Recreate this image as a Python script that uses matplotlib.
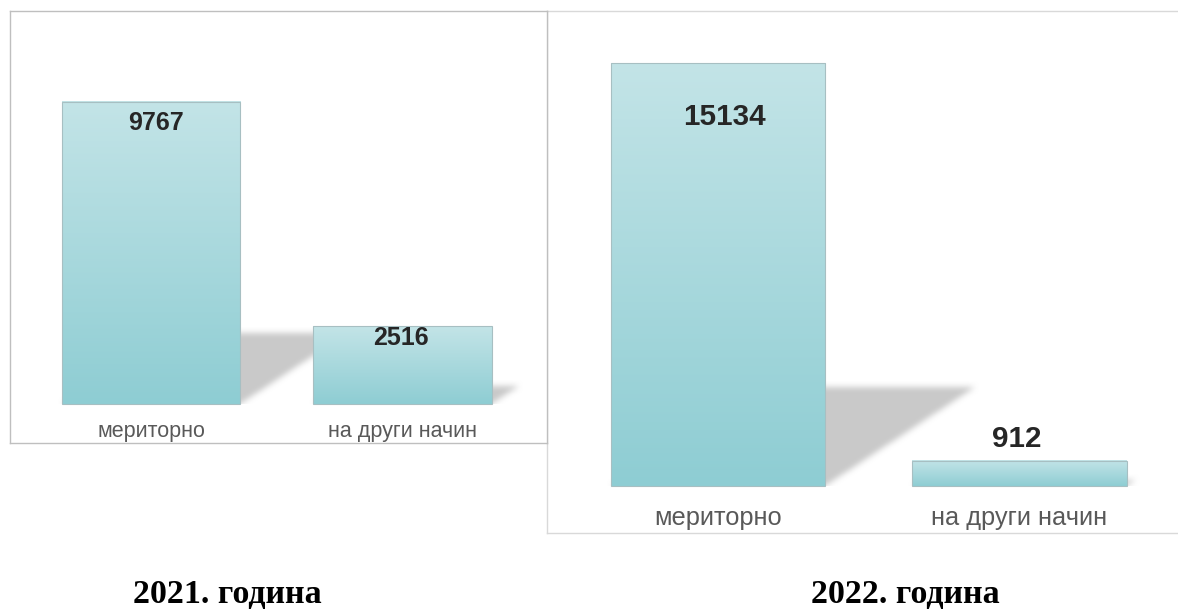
import numpy as np
import matplotlib
matplotlib.use("Agg")
import matplotlib.pyplot as plt
from matplotlib.path import Path
from matplotlib.colors import LinearSegmentedColormap
from matplotlib.transforms import offset_copy

# ---------------- data ----------------
categories = ["мериторно", "на други начин"]
values_2021 = [9767, 2516]
values_2022 = [15134, 912]
titles = ["2021. година", "2022. година"]

# ---------------- style ----------------
W, H = 1178, 610
fig = plt.figure(figsize=(W / 100, H / 100), dpi=100)
SANS = ["Liberation Sans", "DejaVu Sans"]
SERIF = ["Liberation Serif", "DejaVu Serif"]
bar_cmap = LinearSegmentedColormap.from_list("bar", ["#8ecdd3", "#c3e4e7"])


def px_axes(x0, y0, x1, y1):
    return fig.add_axes([x0 / W, 1 - y1 / H, (x1 - x0) / W, (y1 - y0) / H])


def blur(a, r):
    k = np.ones(2 * r + 1) / (2 * r + 1)
    for _ in range(2):
        a = np.apply_along_axis(lambda m: np.convolve(m, k, mode="same"), 0, a)
        a = np.apply_along_axis(lambda m: np.convolve(m, k, mode="same"), 1, a)
    return a


def panel(box, values, xlim, ylim, width, cat_fs, val_fs, val_offsets,
          cat_offset, spine_color):
    ax = px_axes(*box)
    ax.set_xlim(*xlim)
    ax.set_ylim(*ylim)
    x = np.arange(len(values))
    bars = ax.bar(x, values, width, color="none", edgecolor="#a7bfc2",
                  linewidth=0.8, zorder=4)

    # shadow raster
    nx = int(box[2] - box[0])
    ny = int(box[3] - box[1])
    px_per_x = nx / (xlim[1] - xlim[0])
    px_per_y = ny / (ylim[1] - ylim[0])
    gx = xlim[0] + (np.arange(nx) + 0.5) / px_per_x
    gy = ylim[0] + (np.arange(ny) + 0.5) / px_per_y
    GX, GY = np.meshgrid(gx, gy)
    pts = np.column_stack([GX.ravel(), GY.ravel()])
    mask = np.zeros(GX.shape)
    for xi, v in zip(x, values):
        h_px = v * px_per_y
        s = 0.355 * h_px / px_per_x
        t = 0.234 * v
        l, r = xi - width / 2, xi + width / 2
        poly = Path([(l, 0), (r, 0), (r + s, t), (l + s, t), (l, 0)])
        mask = np.maximum(mask, poly.contains_points(pts).reshape(GX.shape))
    mask = blur(mask, 3)
    mask[GY < 0] = 0
    rgba = np.zeros(mask.shape + (4,))
    rgba[..., :3] = 0.79
    rgba[..., 3] = mask
    ax.imshow(rgba, extent=(xlim[0], xlim[1], ylim[0], ylim[1]),
              origin="lower", aspect="auto", zorder=1, interpolation="bilinear")

    # gradient bars
    grad = np.linspace(0, 1, 256).reshape(-1, 1)
    for b in bars:
        bx, by = b.get_x(), b.get_y()
        ax.imshow(grad, extent=(bx, bx + b.get_width(), by, by + b.get_height()),
                  origin="lower", aspect="auto", cmap=bar_cmap, zorder=3)

    for xi, v, (dx, dy) in zip(x, values, val_offsets):
        tr = offset_copy(ax.transData, fig=fig, x=dx * 0.72, y=dy * 0.72,
                         units="points")
        ax.text(xi, v, f"{v}", transform=tr, ha="center", va="center",
                fontsize=val_fs, fontweight="bold", color="#262626",
                family=SANS, zorder=5)
    for xi, c in zip(x, categories):
        tr = offset_copy(ax.transData, fig=fig, x=0, y=-cat_offset * 0.72,
                         units="points")
        ax.text(xi, 0, c, transform=tr, ha="center", va="center",
                fontsize=cat_fs, color="#595959", family=SANS, zorder=5)

    ax.set_xlim(*xlim)
    ax.set_ylim(*ylim)
    ax.set_xticks([])
    ax.set_yticks([])
    for sp in ax.spines.values():
        sp.set_color(spine_color)
        sp.set_linewidth(1.0)
    return ax


# right panel (drawn first so the left one overlaps it)
panel((547, 11, 1182, 533), values_2022, (-0.567, 1.539), (-1682, 16996),
      0.71, 18.3, 21.3, [(6, -54), (-3, 22)], 32, "#d9d9d9")
panel((10, 11, 547, 443), values_2021, (-0.5606, 1.5746), (-1261, 12710),
      0.708, 15.5, 18, [(5, -21), (-2, -12)], 27, "#bfbfbf")

fig.text(227 / W, 1 - 603 / H, titles[0], ha="center", va="baseline",
         fontsize=24.5, fontweight="bold", family=SERIF, color="black")
fig.text(905 / W, 1 - 603 / H, titles[1], ha="center", va="baseline",
         fontsize=24.5, fontweight="bold", family=SERIF, color="black")

fig.savefig("out.png", dpi=100, facecolor="white")
